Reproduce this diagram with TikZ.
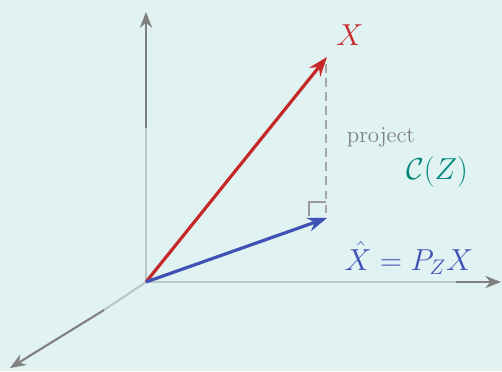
\documentclass[tikz,border=0pt]{standalone}
\usepackage{amsmath}
\definecolor{bgmint}{HTML}{E0F2F1}
\definecolor{vecred}{HTML}{C62828}
\definecolor{vecblue}{HTML}{3F51B5}
\definecolor{spanteal}{HTML}{00897B}
\definecolor{axisdark}{HTML}{808080}
\definecolor{axislight}{HTML}{B9C9C7}
\usetikzlibrary{arrows.meta, positioning}

\begin{document}
\begin{tikzpicture}[x=0.02cm, y=-0.02cm]
        \tikzset{
          axisnear/.style={draw=axislight, line width=1.2pt},
          axisfar/.style={draw=axisdark, line width=1.2pt,
                          -{Stealth[length=9pt, width=7pt]}},
          vec/.style={line width=1.8pt, -{Stealth[length=11pt, width=8pt]}},
          lbl/.style={inner sep=1pt, font=\LARGE}
        }
        \fill[bgmint] (0,0) rectangle (502,371);
        \useasboundingbox (0,0) rectangle (502,371);

        \coordinate (o)  at (146,282);
        \coordinate (zs) at (146,128);
        \coordinate (zt) at (146,12);
        \coordinate (xs) at (456,282);
        \coordinate (xt) at (501,282);
        \coordinate (ys) at (104,310);
        \coordinate (yt) at (10,368);

        % axes, faded near the origin
        \draw[axisnear] (o) -- (zs);
        \draw[axisfar]  (zs) -- (zt);
        \draw[axisnear] (o) -- (xs);
        \draw[axisfar]  (xs) -- (xt);
        \draw[axisnear] (o) -- (ys);
        \draw[axisfar]  (ys) -- (yt);

        \coordinate (xv) at (327,57);
        \coordinate (pv) at (327,218);
        \coordinate (dtop) at (326,64);
        \coordinate (dbot) at (326,218);

        % projection
        \draw[axisdark!70, dashed, line width=0.8pt, dash pattern=on 5pt off 3pt]
              (dtop) -- (dbot);
        \draw[axisdark!80, line width=0.8pt]
              (326,202) -- (309,202) -- (309,216);

        \draw[vec, vecred]  (o) -- (xv);
        \draw[vec, vecblue] (o) -- (pv);

        \node[lbl, text=vecred] (xlab) at (350,35) {$X$};
        \node[text=axisdark, font=\fontsize{13}{15}\selectfont] (proj) at (381,137) {project};
        \node[lbl, text=spanteal] (span) at (437,172) {$\mathcal{C}(Z)$};
        \node[lbl, text=vecblue] (plab) at (409,258) {$\hat{X} = P_Z X$};
      \end{tikzpicture}
\end{document}
